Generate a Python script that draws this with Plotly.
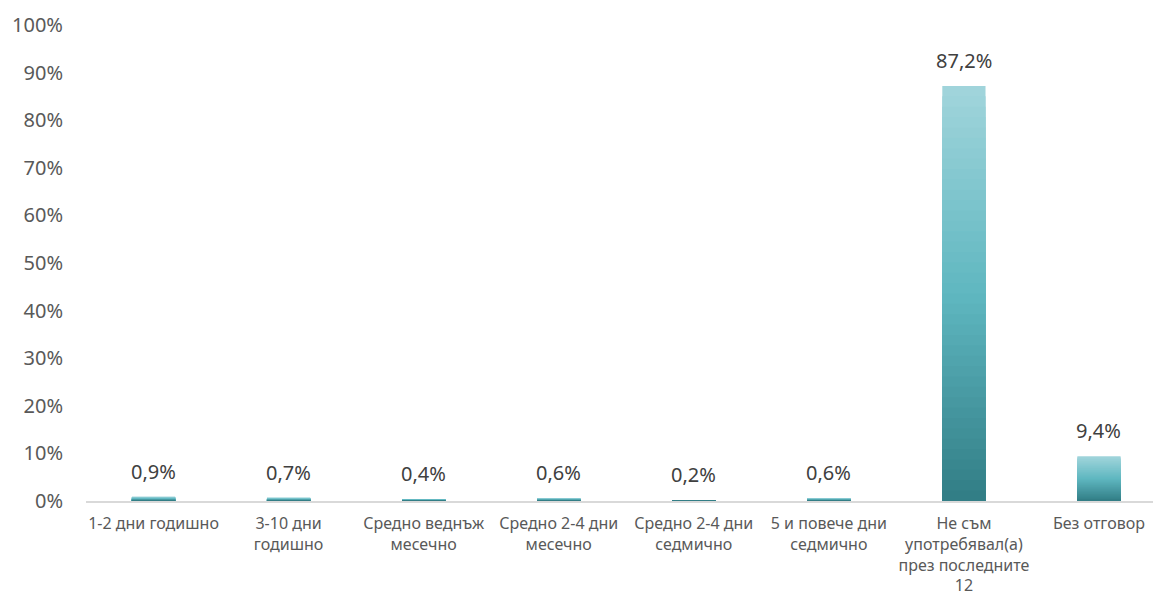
import plotly.graph_objects as go

categories = [
    "1-2 дни годишно",
    "3-10 дни<br>годишно",
    "Средно веднъж<br>месечно",
    "Средно 2-4 дни<br>месечно",
    "Средно 2-4 дни<br>седмично",
    "5 и повече дни<br>седмично",
    "Не съм<br>употребявал(а)<br>през последните<br>12",
    "Без отговор",
]
values = [0.9, 0.7, 0.4, 0.6, 0.2, 0.6, 87.2, 9.4]
labels = ["0,9%", "0,7%", "0,4%", "0,6%", "0,2%", "0,6%", "87,2%", "9,4%"]
y_ticks = [0, 10, 20, 30, 40, 50, 60, 70, 80, 90, 100]
y_tick_text = [f"{t}%" for t in y_ticks]

# gradient stops (top -> bottom)
stops = [(0.0, (160, 212, 219)), (0.5, (95, 183, 192)), (1.0, (50, 126, 134))]


def grad(t):
    for (t0, c0), (t1, c1) in zip(stops[:-1], stops[1:]):
        if t0 <= t <= t1:
            f = (t - t0) / (t1 - t0)
            return "rgb(%d,%d,%d)" % tuple(round(a + (b - a) * f) for a, b in zip(c0, c1))
    return "rgb(%d,%d,%d)" % stops[-1][1]


N = 40
x_idx = list(range(len(categories)))
fig = go.Figure()
for k in range(N):
    frac = 1 - k / N
    fig.add_trace(go.Bar(
        x=x_idx,
        y=[v * frac for v in values],
        width=0.32,
        marker=dict(color=grad(k / (N - 1)), line=dict(width=0)),
        hoverinfo="skip" if k else "y",
        showlegend=False,
    ))

for i, (v, lab) in enumerate(zip(values, labels)):
    fig.add_annotation(
        x=i, y=v, text=lab, showarrow=False,
        yanchor="bottom", yshift=10,
        font=dict(size=20, color="#404040"),
    )

fig.update_layout(
    barmode="overlay",
    width=1153, height=599,
    margin=dict(l=86, r=0, t=25, b=98),
    paper_bgcolor="white", plot_bgcolor="white",
    font=dict(family="Noto Sans, Open Sans, sans-serif", color="#595959"),
)
fig.update_xaxes(
    range=[-0.5, 7.4],
    tickvals=x_idx, ticktext=categories,
    tickfont=dict(size=16, color="#595959"),
    showgrid=False, showline=True, linecolor="#d9d9d9", linewidth=1.5,
    ticks="", tickangle=0, automargin=False,
    ticklabelstandoff=7,
)
fig.update_yaxes(
    range=[0, 100],
    tickvals=y_ticks, ticktext=y_tick_text,
    tickfont=dict(size=20, color="#595959"),
    showgrid=False, zeroline=False, showline=False,
    ticklabelstandoff=22, automargin=False,
)
fig.write_html(
    "out.html",
    config={"displayModeBar": False},
    post_script="document.body.style.margin='0';document.body.style.overflow='hidden';",
)
